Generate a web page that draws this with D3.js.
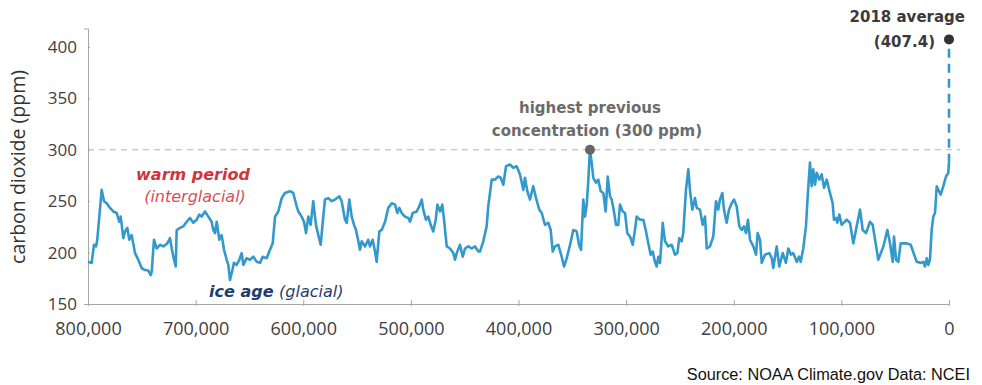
<!DOCTYPE html>
<html>
<head>
<meta charset="utf-8">
<script src="https://cdn.jsdelivr.net/npm/d3@7"></script>
<style>
  body { margin: 0; background: #fff; }
</style>
</head>
<body>
<div id="chart"></div>
<script>
// CO2 over the last 800,000 years (ice core record) + 2018 average

var width = 982;
var height = 385;

// age in thousands of years before present
var ageKyr = [
  800, 796.6, 794.4, 792.5, 791.4, 787.3, 785.1, 782.6, 779.6, 776.5,
  773.3, 770.9, 769.6, 767.2, 765.6, 763.5, 761.6, 759.4, 756.3, 753.3,
  750.1, 747.0, 744.0, 741.7, 740.8, 738.7, 736.2, 733.1, 730.0, 726.3,
  723.8, 722.2, 720.1, 718.5, 717.6, 714.5, 711.5, 708.3, 705.2, 702.2,
  699.0, 696.6, 694.4, 691.3, 688.2, 685.1, 683.6, 682.0, 680.4, 678.0,
  675.8, 673.6, 671.1, 669.6, 668.1, 666.5, 664.4, 661.9, 659.4, 657.2,
  655.7, 652.6, 649.5, 646.4, 643.2, 640.2, 637.7, 634.0, 630.9, 628.4,
  626.2, 623.2, 620.0, 617.0, 612.3, 609.3, 606.1, 604.6, 601.5, 599.3,
  597.4, 595.3, 593.1, 590.7, 588.2, 586.0, 583.8, 581.4, 579.8, 576.7,
  573.6, 570.5, 566.5, 564.3, 561.2, 559.6, 557.2, 555.0, 552.8, 551.0,
  548.8, 547.3, 545.7, 542.6, 539.6, 538.0, 535.5, 533.3, 531.8, 529.3,
  527.1, 524.0, 521.0, 517.8, 514.7, 512.6, 510.8, 508.5, 505.5, 502.4,
  500.8, 498.3, 494.6, 492.2, 489.9, 488.5, 486.0, 483.8, 481.6, 479.2,
  476.9, 475.4, 472.9, 470.8, 469.2, 466.7, 463.6, 460.6, 459.0, 457.4,
  454.4, 451.8, 449.7, 446.6, 443.5, 440.4, 437.3, 435.8, 432.7, 429.6,
  428.1, 424.9, 421.8, 418.8, 416.5, 414.1, 411.6, 407.9, 404.8, 401.7,
  398.6, 395.5, 394.0, 391.8, 389.3, 386.3, 383.7, 380.7, 378.4, 375.4,
  372.3, 370.1, 368.2, 366.1, 363.0, 359.9, 357.7, 355.2, 352.1, 349.1,
  345.9, 343.8, 341.9, 339.8, 338.2, 336.6, 335.1, 333.6, 332.0, 330.5,
  328.0, 325.9, 323.6, 321.2, 319.0, 317.1, 315.0, 313.4, 311.3, 309.4,
  307.3, 305.7, 303.2, 301.0, 298.9, 296.4, 293.9, 291.8, 290.2, 287.1,
  284.0, 281.8, 279.4, 277.2, 275.3, 273.2, 271.6, 270.1, 268.5, 266.0,
  263.9, 260.8, 257.7, 254.6, 252.4, 250.6, 248.4, 246.9, 244.4, 242.2,
  240.7, 238.5, 236.0, 234.4, 231.4, 228.9, 226.7, 225.1, 222.1, 219.0,
  216.5, 214.4, 212.8, 210.6, 209.1, 206.6, 204.4, 201.9, 199.8, 197.3,
  194.8, 192.6, 190.5, 188.6, 186.8, 184.9, 181.8, 179.3, 177.8, 175.6,
  174.0, 171.0, 167.0, 164.7, 163.3, 160.1, 157.7, 154.5, 151.5, 149.3,
  146.8, 144.7, 141.5, 139.4, 137.8, 135.4, 132.9, 131.3, 129.2, 127.6,
  126.1, 124.5, 122.9, 120.5, 118.3, 116.1, 113.6, 110.6, 108.1, 106.9,
  105.0, 103.8, 101.9, 99.7, 95.1, 92.0, 88.9, 85.8, 82.7, 80.2,
  77.1, 73.4, 70.9, 65.7, 61.0, 57.3, 54.8, 52.3, 51.1, 49.2,
  47.1, 44.9, 39.3, 35.6, 30.0, 26.3, 23.9, 22.3, 20.7, 19.2,
  17.7, 16.1, 14.6, 13.0, 11.4, 9.9, 7.7, 5.3, 2.8, 0.7,
  0
];

// carbon dioxide, ppm
var co2 = [
  191, 190, 207.6, 206, 212.5, 261, 250, 248, 243.5, 240,
  238.5, 230, 235, 214, 220.6, 224, 212.5, 217, 199.5, 193,
  185, 183, 182.5, 178, 181.5, 212.5, 204, 207.6, 206, 209,
  214, 204, 193, 186.5, 222, 224, 225.5, 230, 233.7, 229,
  232, 237, 235, 240, 235, 230, 222, 219, 230, 212.5,
  217, 202.7, 193, 188, 173.4, 180, 190, 188, 193, 199.5,
  188, 194.6, 193, 196, 191, 190, 196, 194.6, 202.7, 209,
  235, 240, 253, 258, 259.7, 258, 245, 240, 235, 230,
  219, 235, 227, 250, 227, 217, 207.6, 235, 251.6, 253,
  250, 251.6, 254.8, 250, 232, 229, 251.6, 235, 227, 222,
  211, 202.7, 211, 206, 212.5, 206, 212.5, 201, 191, 220.6,
  222, 230, 243.5, 248, 246.7, 238.5, 243.5, 238.5, 235, 233.7,
  230, 238.5, 240, 245, 251.6, 241.8, 232, 235, 227, 220.6,
  232, 246.7, 240, 246.7, 232, 206, 204, 199.5, 193, 199.5,
  207.6, 196, 204, 206, 204, 206, 201, 201, 211, 225.5,
  245, 271, 271, 274, 272.8, 266, 284, 285.7, 282.5, 284,
  276, 261, 272.8, 259.7, 251.6, 264.6, 253, 241.8, 238.5, 227,
  229, 222, 201, 206, 207.6, 196, 186.5, 194.6, 207.6, 222,
  220.6, 207.6, 202.7, 251.6, 235, 246.7, 271, 300, 287.5, 272.8,
  268, 271, 259.7, 258, 240, 274, 254.8, 251.6, 240, 227,
  227, 246.7, 240, 238.5, 219, 215.7, 207.6, 222, 235, 232,
  232, 222, 209, 198, 201, 191, 186.5, 196, 190, 229,
  211, 206, 207.6, 198, 199.5, 214, 211, 219, 261, 281,
  261, 241.8, 253, 243.5, 241.8, 227, 235, 204, 206, 215.7,
  250, 241.8, 251.6, 258, 241.8, 229, 241.8, 248, 251.6, 245,
  225.5, 222, 225.5, 219, 232, 212.5, 206, 198, 219, 212.5,
  190, 198, 199.5, 194.6, 185, 206, 186.5, 199.5, 190, 204,
  198, 199.5, 191, 196, 191, 204, 225.5, 254.8, 287.5, 264.6,
  281, 266, 277.6, 271, 276, 263, 271, 258, 248, 232,
  233.7, 229, 237, 227, 232, 229, 209, 225.5, 241.8, 222,
  219, 230, 227, 193, 206, 222, 209, 191, 215.7, 193,
  191, 209, 209, 207.6, 191, 190, 191, 186.5, 194.6, 188,
  193, 222, 235, 238.5, 264.6, 261, 256.4, 264.6, 274, 277.6,
  287.5
];

var yTicks = [150, 200, 250, 300, 350, 400];
var xTicks = [800000, 700000, 600000, 500000, 400000, 300000, 200000, 100000, 0];

var previousMax = { age: 333600, ppm: 300 };
var current = { age: 0, ppm: 407.4 };

var sans = "'Open Sans', sans-serif";
var verd = "'DejaVu Sans', Verdana, sans-serif";

gen_chart();

function gen_chart() {
    var svg = d3.select("#chart")
        .append("svg")
        .attr("width", width)
        .attr("height", height);

    var x = d3.scaleLinear().domain([800000, 0]).range([88, 949]);
    var y = d3.scaleLinear().domain([150, 418]).range([304, 28.5]);

    var data = ageKyr.map(function(a, i) { return { age: a * 1000, ppm: co2[i] }; });

    // dashed reference line at 300 ppm
    svg.append("line")
        .attr("x1", x(800000)).attr("x2", x(0) + 11)
        .attr("y1", y(previousMax.ppm)).attr("y2", y(previousMax.ppm))
        .attr("stroke", "#b3b3b3")
        .attr("stroke-width", 1)
        .attr("stroke-dasharray", "6,5");

    // y axis
    var yAxis = svg.append("g")
        .attr("transform", "translate(" + x(800000) + ",0)")
        .call(d3.axisLeft(y).tickValues(yTicks).tickSizeOuter(0).tickSize(4).tickPadding(7));
    yAxis.selectAll(".tick line").attr("x2", 2).attr("stroke", "#a6a6a6");
    yAxis.select(".domain").attr("stroke", "#a6a6a6");
    yAxis.selectAll("text")
        .attr("fill", "#404040")
        .style("font-family", sans)
        .style("font-size", "17px");

    // x axis
    var xAxis = svg.append("g")
        .attr("transform", "translate(0," + y(150) + ")")
        .call(d3.axisBottom(x).tickValues(xTicks).tickFormat(d3.format(",")).tickSizeOuter(0).tickSize(2).tickPadding(16));
    xAxis.selectAll(".tick line").attr("y1", -4).attr("stroke", "#a6a6a6");
    xAxis.select(".domain").attr("stroke", "#a6a6a6");
    xAxis.selectAll("text")
        .attr("fill", "#404040")
        .style("font-family", sans)
        .style("font-size", "18px");

    // y label
    svg.append("text")
        .attr("transform", "translate(25,167) rotate(-90)")
        .attr("text-anchor", "middle")
        .attr("fill", "#333")
        .style("font-family", sans)
        .style("font-size", "19.5px")
        .text("carbon dioxide (ppm)");

    // the record
    var line = d3.line()
        .x(function(d) { return x(d.age); })
        .y(function(d) { return y(d.ppm); });

    svg.append("path")
        .datum(data)
        .attr("d", line)
        .attr("fill", "none")
        .attr("stroke", "#3399cc")
        .attr("stroke-width", 2.6)
        .attr("stroke-linejoin", "round");

    // jump to 2018
    var last = data[data.length - 1];
    svg.append("line")
        .attr("x1", x(current.age)).attr("x2", x(current.age))
        .attr("y1", y(last.ppm)).attr("y2", y(current.ppm))
        .attr("stroke", "#3399cc")
        .attr("stroke-width", 2.6)
        .attr("stroke-dasharray", "9,6");

    svg.append("circle")
        .attr("cx", x(current.age)).attr("cy", y(current.ppm))
        .attr("r", 5)
        .attr("fill", "#333");

    svg.append("circle")
        .attr("cx", x(previousMax.age)).attr("cy", y(previousMax.ppm))
        .attr("r", 5)
        .attr("fill", "#666");

    // annotations
    function note(tx, ty, anchor, color, str) {
        return svg.append("text")
            .attr("x", tx).attr("y", ty)
            .attr("text-anchor", anchor)
            .attr("fill", color)
            .style("font-family", verd)
            .style("font-weight", "bold")
            .style("font-size", "15px")
            .text(str);
    }
    note(x(current.age) + 16, 22, "end", "#3a3a3a", "2018 average");
    note(x(current.age) - 14, 47, "end", "#3a3a3a", "(407.4)");
    note(x(previousMax.age), 113, "middle", "#6b6b6b", "highest previous");
    note(x(previousMax.age) + 7, 136, "middle", "#6b6b6b", "concentration (300 ppm)");

    svg.append("text")
        .attr("x", 193).attr("y", 180)
        .attr("text-anchor", "middle")
        .attr("fill", "#d0343c")
        .style("font-family", verd)
        .style("font-style", "italic")
        .style("font-weight", "bold")
        .style("font-size", "16px")
        .text("warm period");
    svg.append("text")
        .attr("x", 195).attr("y", 202)
        .attr("text-anchor", "middle")
        .attr("fill", "#d65058")
        .style("font-family", verd)
        .style("font-style", "italic")
        .style("font-size", "16px")
        .text("(interglacial)");

    var ice = svg.append("text")
        .attr("x", 209).attr("y", 297)
        .attr("fill", "#1f3d6d")
        .style("font-family", verd)
        .style("font-style", "italic")
        .style("font-size", "16px");
    ice.append("tspan").style("font-weight", "bold").text("ice age ");
    ice.append("tspan").text("(glacial)");

    // source
    svg.append("text")
        .attr("x", 970).attr("y", 380)
        .attr("text-anchor", "end")
        .attr("fill", "#111")
        .style("font-family", "'Liberation Sans', Arial, sans-serif")
        .style("font-size", "16.3px")
        .text("Source: NOAA Climate.gov Data: NCEI");
}
</script>
</body>
</html>
